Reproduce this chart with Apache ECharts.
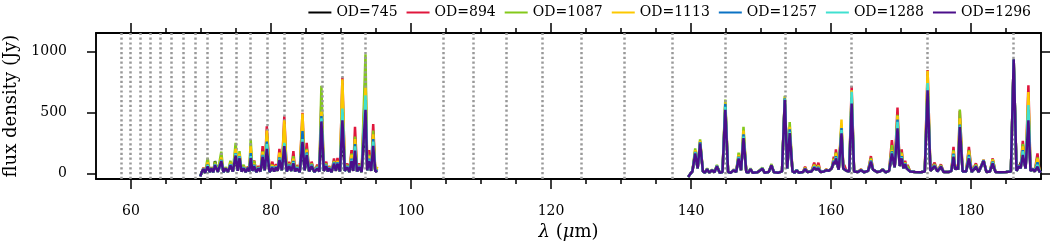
<!DOCTYPE html>
<html><head><meta charset="utf-8">
<script src="https://cdn.jsdelivr.net/npm/echarts@6/dist/echarts.min.js"></script>
<style>html,body{margin:0;padding:0;background:#fff}#c{width:1053px;height:246px}</style>
</head><body><div id="c"></div>
<script>
const seriesNames = ['OD=745','OD=894','OD=1087','OD=1113','OD=1257','OD=1288','OD=1296'];
const seriesColors = ['#000000','#e0163c','#84c91a','#fcc800','#0b72c4','#40e0d0','#4b0f8a'];
const xMajorTicks = [60,80,100,120,140,160,180];
const xMinorTicks = [65,70,75,85,90,95,105,110,115,125,130,135,145,150,155,165,170,175,185];
const yTicks = [0,500,1000];
const refLines = [58.57,59.9,61.3,62.7,64.2,65.7,67.4,69.2,70.95,72.9,75.0,77.1,79.4,81.9,84.5,87.3,90.2,93.5,
  104.6,108.9,113.6,118.7,124.3,130.5,137.3,144.9,153.4,162.9,173.7,186.0];

// shared continuum / baseline points (null = no data between the two bands)
const baseLam = [69.9,70.15,70.6,71.25,71.75,72.4,73.2,73.85,74.55,75.25,75.8,76.4,76.9,77.35,77.9,78.5,79.1,79.8,80.45,80.95,
  81.55,82.25,82.9,83.45,84.1,84.8,85.45,86.2,86.9,87.55,88.1,88.65,89.25,89.85,90.55,91.2,91.75,92.3,92.95,93.75,94.3,94.9,
  117,
  139.6,139.9,140.2,140.95,141.7,142.0,142.6,143.35,144.1,144.5,145.3,145.7,146.45,147.15,147.9,148.2,148.8,149.5,150.5,151.1,
  151.85,152.5,153.0,153.75,154.5,154.8,155.4,156.0,156.6,157.2,157.9,158.5,159.0,159.7,160.1,160.55,161.1,161.75,162.2,162.6,
  163.3,163.8,164.7,165.3,166.0,166.6,167.0,167.8,168.3,169.1,169.8,170.35,170.8,171.3,172.0,172.8,173.4,174.2,175.2,176.1,
  176.8,177.2,177.75,178.15,178.8,179.3,180.1,181.1,182.2,182.7,183.5,184.2,185.0,185.7,186.5,187.1,187.8,188.5,189.1,189.8,190.0];
const baseVal = [-25,15,5,10,8,12,10,12,15,20,15,10,15,20,10,15,25,10,15,20,
  25,15,20,15,10,25,15,10,15,20,15,10,20,15,20,10,20,15,10,25,20,15,
  null,
  -30,-5,15,40,15,5,5,8,5,10,10,5,10,25,10,5,5,8,5,10,
  8,5,15,40,15,5,5,10,10,15,30,10,15,20,40,75,30,40,20,15,
  15,10,8,20,30,10,15,8,20,50,60,40,40,15,10,8,15,20,15,10,
  10,20,30,30,15,15,10,10,10,15,10,8,10,15,20,40,40,20,15,10,20];

// emission line peaks
const peakLam = [70.35,70.95,71.5,72.0,72.9,73.5,74.2,74.95,75.5,76.1,76.7,77.1,77.6,78.2,78.8,79.4,80.2,80.7,81.2,81.9,
  82.6,83.2,83.7,84.5,85.1,85.8,86.6,87.2,87.9,88.3,89.0,89.5,90.2,90.9,91.5,92.0,92.6,93.5,94.0,94.6,95.2,
  140.6,141.3,142.3,143.0,143.7,144.9,146.1,146.8,147.5,148.5,150.2,151.5,153.4,154.1,155.1,156.3,157.6,158.2,159.3,160.4,
  160.7,161.5,161.9,162.95,164.3,165.7,166.2,167.4,168.7,169.5,170.1,170.6,170.95,173.8,174.8,175.7,177.5,178.0,178.4,179.7,
  180.7,181.8,183.1,186.1,186.9,187.4,188.2,188.8,189.5];
const od745 = [30,60,35,100,90,35,60,120,110,40,40,110,50,40,100,150,40,50,80,180,
  50,60,40,200,100,50,40,300,50,40,60,60,300,50,70,120,50,400,70,130,20,
  150,230,30,25,55,480,25,110,270,30,35,55,580,300,25,30,40,35,25,80,
  100,300,40,500,25,80,35,30,130,300,100,60,45,620,50,45,110,50,330,100,
  45,95,70,900,55,130,400,30,45];
const od894 = [45,80,50,70,120,45,80,180,150,60,55,200,105,60,223,386,95,75,200,467,
  95,182,68,495,250,95,70,600,95,60,122,125,784,80,190,380,82,800,190,403,30,
  180,260,35,28,60,560,30,140,330,35,40,65,610,360,30,54,87,87,32,136,
  196,380,68,713,32,141,41,35,272,539,196,103,68,846,87,73,217,68,510,217,
  82,110,122,930,68,266,721,40,163];
const od1087 = [40,125,45,95,177,50,103,250,182,70,50,275,100,50,180,320,70,60,150,380,
  80,140,60,430,200,80,60,718,80,50,100,100,700,70,160,300,70,975,150,350,35,
  204,278,41,30,68,605,30,168,381,41,45,76,635,420,30,45,70,65,30,120,
  170,400,55,650,30,125,40,34,230,480,170,90,60,760,75,65,190,62,523,190,
  70,108,115,925,65,240,600,38,130];
const od1113 = [40,90,40,80,130,45,85,200,160,55,50,220,80,45,175,350,65,60,170,435,
  75,120,55,490,190,75,55,505,75,50,95,100,770,65,150,280,65,700,140,320,54,
  190,265,38,28,62,580,28,150,350,38,42,70,620,380,28,42,65,60,28,115,
  163,441,50,680,28,115,38,32,190,470,160,85,55,840,70,62,180,60,450,180,
  65,106,110,935,62,220,665,36,120];
const od1257 = [35,70,40,75,110,40,75,165,140,50,45,165,70,45,150,260,55,55,130,240,
  70,100,50,345,170,70,50,470,70,45,90,90,500,60,120,240,60,600,120,280,30,
  175,255,35,26,60,570,26,135,320,35,40,66,615,360,26,38,55,50,26,105,
  140,370,45,620,26,105,36,31,180,440,140,80,52,700,65,58,160,55,400,150,
  60,104,95,930,60,190,520,35,90];
const od1288 = [35,65,40,70,105,40,70,160,135,45,45,140,60,45,145,240,50,55,120,250,
  65,90,45,280,160,65,45,450,65,45,85,85,530,55,110,220,55,640,110,260,25,
  170,250,35,26,60,545,26,130,300,35,40,66,610,340,26,36,50,45,26,100,
  130,354,45,667,26,100,36,31,170,422,130,78,50,740,62,56,150,55,390,135,
  56,104,90,935,60,180,560,35,70];
const od1296 = [35,55,40,65,100,40,65,145,125,40,45,125,55,40,135,200,45,50,110,223,
  60,82,40,258,150,60,40,425,60,40,80,80,435,50,100,185,50,520,100,225,20,
  163,245,35,25,58,520,25,122,288,35,38,65,603,330,25,35,45,40,25,95,
  122,327,40,572,25,95,35,30,163,368,122,75,48,680,60,54,136,52,381,122,
  54,103,82,935,58,150,435,34,54];
const seriesPeaks = [od745,od894,od1087,od1113,od1257,od1288,od1296];

const FONT = 'DejaVu Serif';
function buildData(peaks){
  const pts = baseLam.map((l,i)=>[l, baseVal[i]]).concat(peakLam.map((l,i)=>[l, peaks[i]]));
  pts.sort((a,b)=>a[0]-b[0]);
  return pts;
}
const series = [{
  type:'line', data:[], z:1, silent:true,
  markLine:{symbol:'none', silent:true, label:{show:false}, animation:false,
    lineStyle:{color:'#999999', width:2.5, type:[2.2,2.6]},
    data: refLines.map(v=>({xAxis:v}))}
}];
seriesNames.forEach((n,i)=>{
  series.push({name:n, type:'line', data:buildData(seriesPeaks[i]), z:2+i, symbol:'none', showSymbol:false,
    connectNulls:false, lineStyle:{color:seriesColors[i], width:2.5}, itemStyle:{color:seriesColors[i]}});
});

const axisCommon = {axisLine:{show:true, onZero:false, lineStyle:{color:'#000', width:1.5}}, splitLine:{show:false}};
const chart = echarts.init(document.getElementById('c'), null, {renderer:'canvas'});
chart.setOption({
  animation:false,
  backgroundColor:'#fff',
  textStyle:{fontFamily:FONT},
  legend:{data:seriesNames, right:17, top:0, icon:'rect', itemWidth:23, itemHeight:2, itemGap:9,
    textStyle:{fontFamily:FONT, fontSize:14, color:'#000', lineHeight:15}},
  grid:{left:96, top:33, width:945, height:146, show:true, borderColor:'#000', borderWidth:1.5,
    containLabel:false, outerBoundsMode:'none'},
  xAxis:[
    Object.assign({type:'value', min:55, max:190, position:'bottom',
      name:'{i|λ} ({i|μ}m)', nameLocation:'middle', nameGap:42,
      nameTextStyle:{fontFamily:FONT, fontSize:18, color:'#000', rich:{i:{fontFamily:FONT, fontStyle:'italic', fontSize:18, color:'#000'}}},
      axisLabel:{customValues:xMajorTicks, margin:25, fontFamily:FONT, fontSize:14, color:'#000', formatter:v=>String(v)},
      axisTick:{customValues:xMajorTicks, length:10, lineStyle:{color:'#000', width:1.5}}}, axisCommon),
    Object.assign({type:'value', min:55, max:190, position:'bottom', gridIndex:0,
      axisLabel:{show:false}, axisTick:{customValues:xMinorTicks, length:5, lineStyle:{color:'#000', width:1.5}}}, axisCommon),
    Object.assign({type:'value', min:55, max:190, position:'top',
      axisLabel:{show:false}, axisTick:{customValues:xMajorTicks, length:10, lineStyle:{color:'#000', width:1.5}}}, axisCommon),
    Object.assign({type:'value', min:55, max:190, position:'top',
      axisLabel:{show:false}, axisTick:{customValues:xMinorTicks, length:5, lineStyle:{color:'#000', width:1.5}}}, axisCommon)
  ],
  yAxis:[
    Object.assign({type:'value', min:-47, max:1150, position:'left',
      name:'flux density (Jy)', nameLocation:'middle', nameGap:70,
      nameTextStyle:{fontFamily:FONT, fontSize:18, color:'#000'},
      axisLabel:{customValues:yTicks, margin:29, fontFamily:FONT, fontSize:14, color:'#000', formatter:v=>String(v)},
      axisTick:{customValues:yTicks, length:9, lineStyle:{color:'#000', width:1.5}}}, axisCommon),
    Object.assign({type:'value', min:-47, max:1150, position:'right',
      axisLabel:{show:false}, axisTick:{customValues:yTicks, length:9, lineStyle:{color:'#000', width:1.5}}}, axisCommon)
  ],
  series: series
});
</script></body></html>
